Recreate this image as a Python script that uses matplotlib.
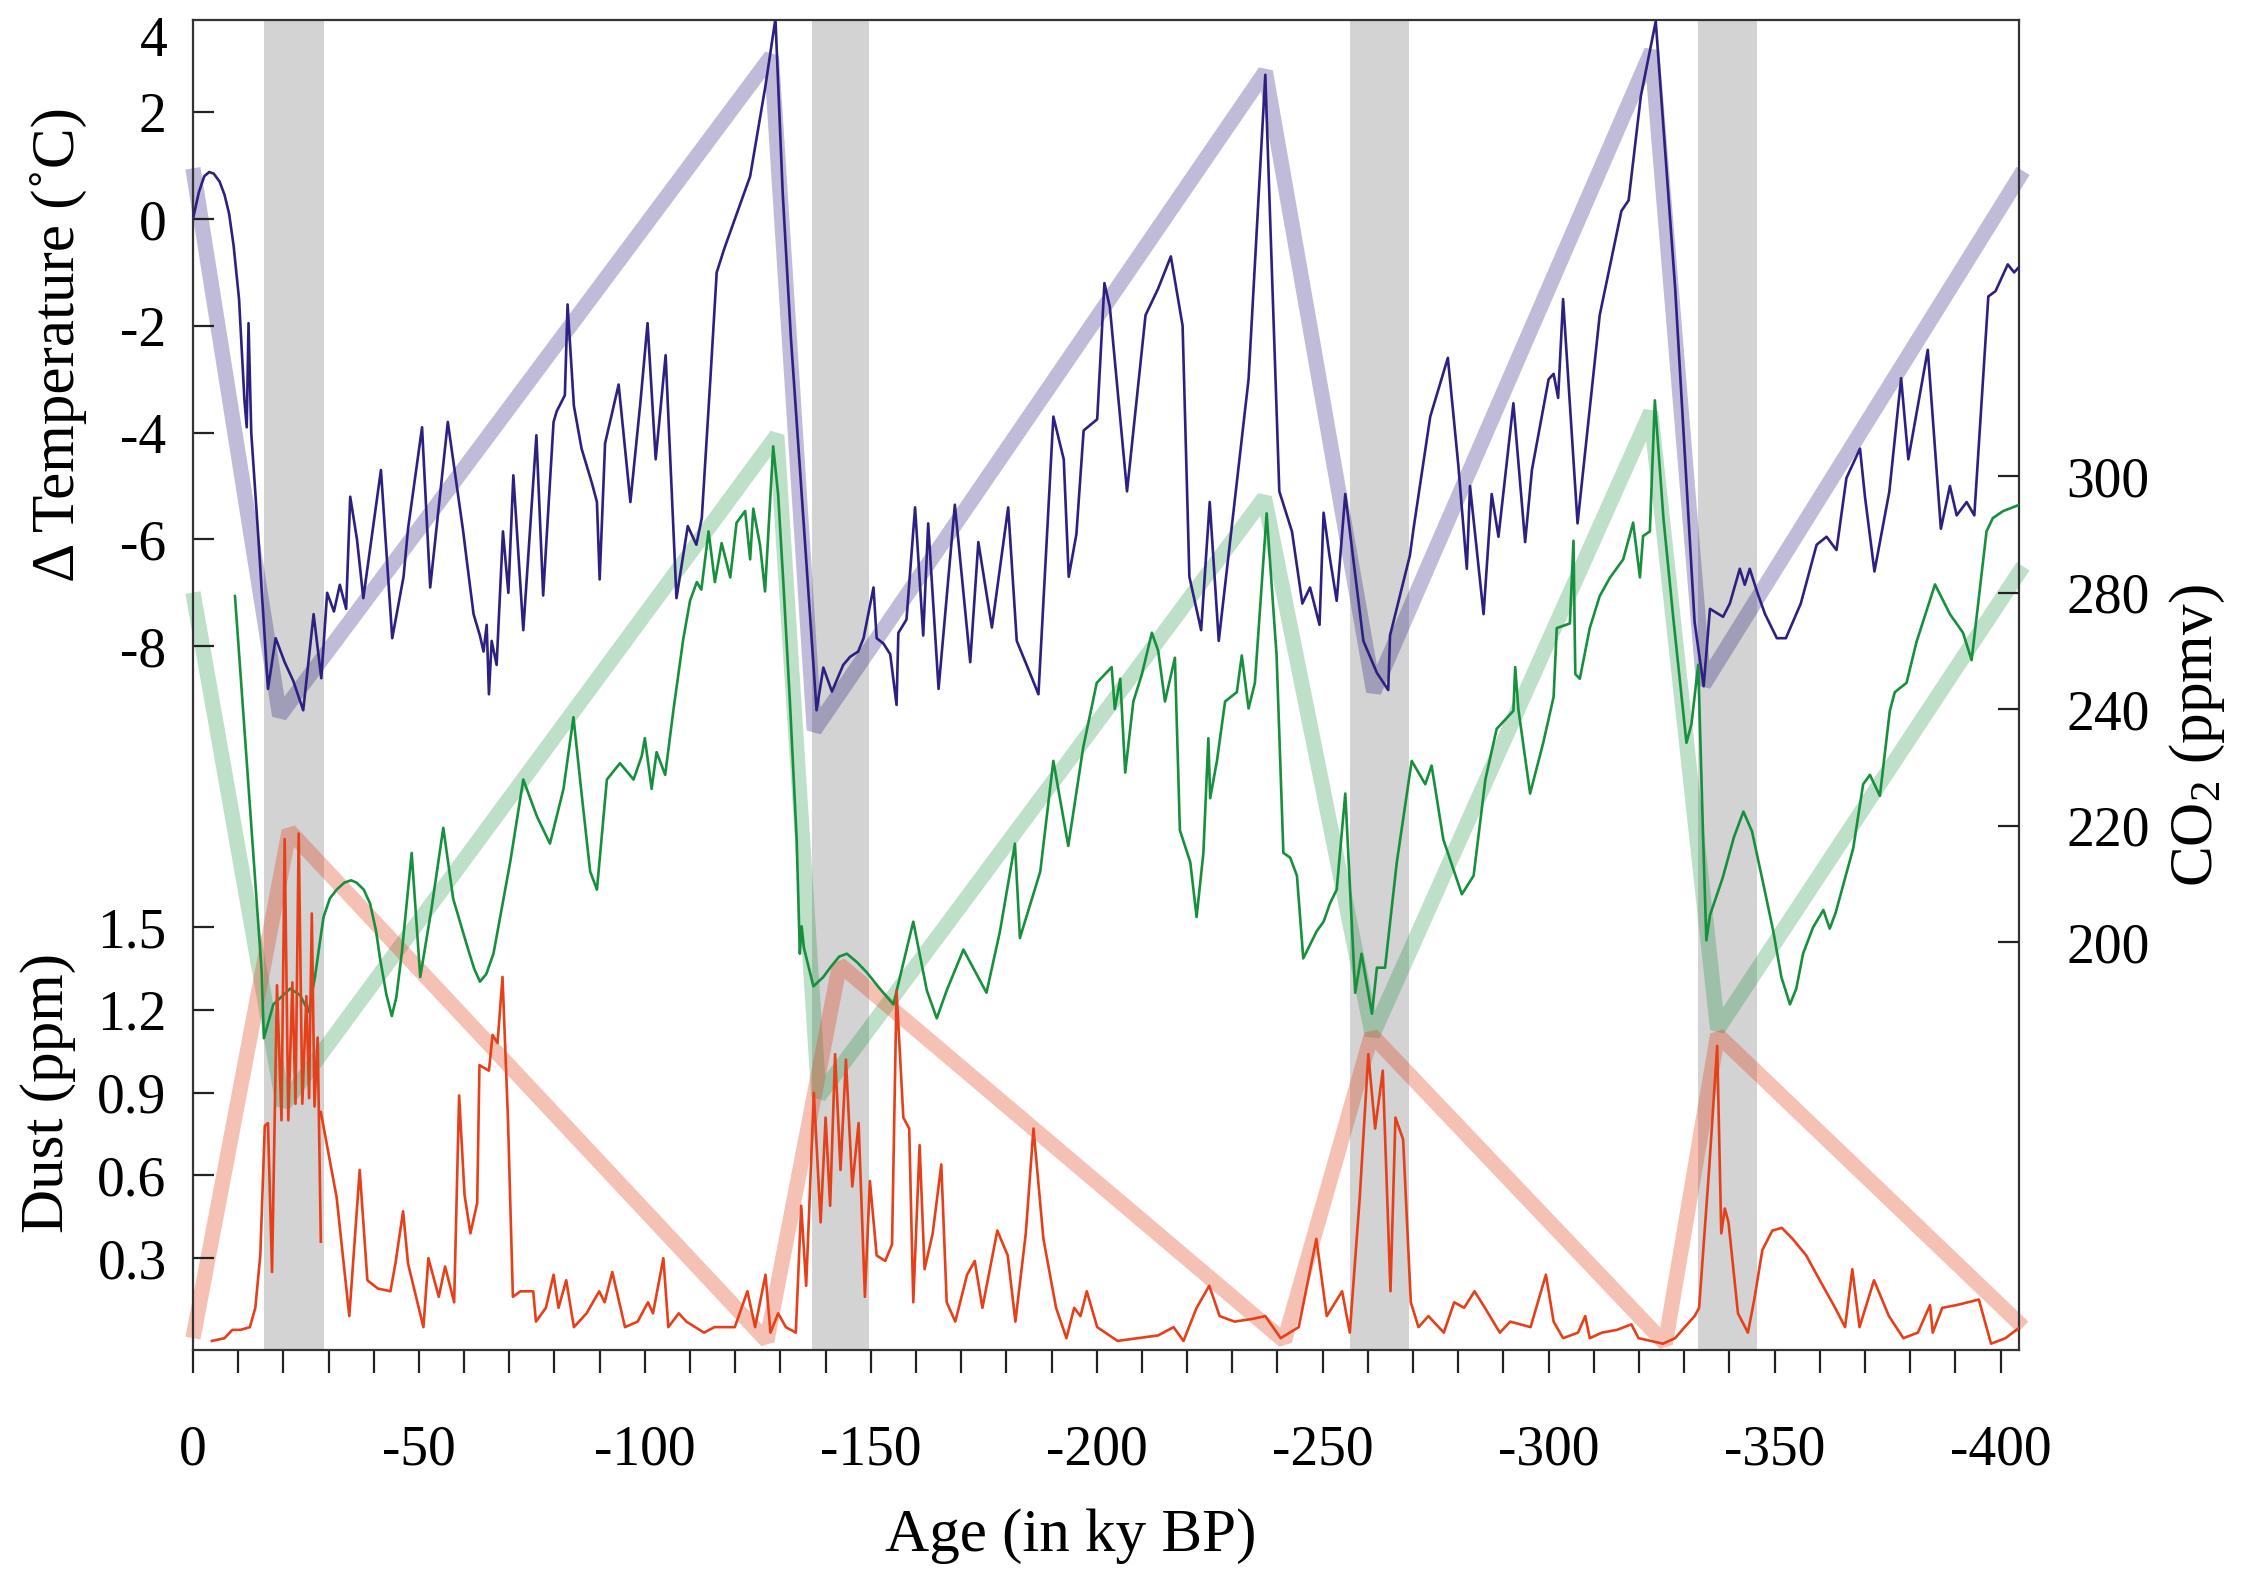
import numpy as np
import matplotlib.pyplot as plt

plt.rcParams['font.family'] = ['Liberation Serif', 'DejaVu Serif']
plt.rcParams['mathtext.fontset'] = 'custom'
plt.rcParams['mathtext.rm'] = 'Liberation Serif'
plt.rcParams['mathtext.it'] = 'Liberation Serif:italic'
plt.rcParams['axes.unicode_minus'] = False

# glacial terminations (gray bands), ky BP as negative numbers
bands = [(-15.8, -28.9), (-136.9, -149.5), (-256.0, -269.0), (-333.0, -346.0)]

# (age, delta T)
temp_points = [
    (0.0, 0.0), (-1.3, 0.5), (-2.5, 0.8), (-3.6, 0.88), (-4.6, 0.85), (-5.9, 0.7),
    (-7.0, 0.45), (-8.0, 0.1), (-9.0, -0.5), (-10.2, -1.5),
    (-11.4, -3.4), (-11.9, -3.9), (-12.3, -1.95), (-12.9, -4.0), (-14.5, -6.0), (-16.6, -8.8),
    (-18.3, -7.85), (-20.3, -8.3), (-22.2, -8.65), (-24.4, -9.2), (-26.7, -7.4), (-28.4, -8.6),
    (-29.7, -7.0), (-31.2, -7.35), (-32.5, -6.85), (-33.9, -7.3), (-34.8, -5.2), (-36.3, -6.0),
    (-37.7, -7.1), (-41.6, -4.7), (-44.1, -7.85), (-46.6, -6.7), (-47.6, -5.8), (-50.7, -3.9),
    (-52.5, -6.9), (-56.4, -3.8), (-58.4, -5.0), (-59.8, -5.85), (-60.6, -6.4), (-62.1, -7.4),
    (-63.5, -7.8), (-64.3, -8.1), (-65.0, -7.6), (-65.5, -8.9), (-66.1, -7.9), (-67.2, -8.35),
    (-68.6, -5.85), (-69.8, -7.0), (-70.9, -4.8), (-73.1, -7.7), (-76.0, -4.05), (-77.5, -7.05),
    (-79.8, -3.8), (-80.5, -3.6), (-82.3, -3.3), (-82.9, -1.6), (-84.3, -3.5), (-86.0, -4.3),
    (-88.3, -4.95), (-89.4, -5.3), (-90.0, -6.75), (-91.2, -4.2), (-94.2, -3.1), (-96.8, -5.3),
    (-99.0, -3.45), (-100.6, -1.95), (-102.4, -4.5), (-104.6, -2.55), (-107.0, -7.1),
    (-109.5, -5.75), (-111.4, -6.1), (-112.6, -5.6), (-114.5, -3.0), (-115.9, -1.0),
    (-117.6, -0.55), (-123.3, 0.8), (-126.7, 2.5), (-128.9, 3.75), (-130.5, 0.5), (-132.3, -2.2),
    (-138.0, -9.2), (-139.5, -8.4), (-141.4, -8.85), (-143.9, -8.35), (-145.4, -8.2),
    (-147.2, -8.1), (-148.4, -7.85), (-150.6, -6.9), (-151.3, -7.85), (-152.8, -7.95),
    (-154.3, -8.15), (-155.7, -9.1), (-156.1, -7.75), (-157.9, -7.5), (-159.8, -5.4),
    (-161.6, -7.8), (-162.7, -5.7), (-165.0, -8.8), (-168.6, -5.35), (-172.0, -8.3),
    (-173.8, -6.05), (-176.8, -7.65), (-180.4, -5.4), (-182.3, -7.9), (-185.2, -8.5),
    (-187.1, -8.9), (-190.4, -3.7), (-192.7, -4.5), (-193.8, -6.7), (-195.5, -5.9),
    (-197.1, -3.96), (-200.1, -3.75), (-201.7, -1.2), (-202.9, -1.65), (-206.7, -5.1),
    (-210.8, -1.8), (-213.6, -1.3), (-216.4, -0.7), (-219.0, -2.0), (-220.5, -6.7),
    (-223.1, -7.7), (-225.0, -5.3), (-227.0, -7.9), (-233.6, -3.0), (-237.3, 2.7),
    (-240.4, -5.1), (-243.2, -5.85), (-245.5, -7.2), (-247.2, -6.9), (-249.3, -7.6),
    (-250.2, -5.5), (-251.5, -6.3), (-253.1, -7.15), (-255.0, -5.15), (-259.0, -7.9),
    (-262.0, -8.5), (-264.5, -8.82), (-264.9, -7.8), (-269.3, -6.3), (-270.1, -5.8),
    (-273.8, -3.7), (-277.7, -2.6), (-280.0, -4.6), (-281.9, -6.55), (-282.6, -5.0),
    (-285.6, -7.4), (-287.4, -5.15), (-288.9, -5.95), (-292.2, -3.45), (-294.8, -6.05),
    (-296.3, -4.7), (-300.0, -3.0), (-301.1, -2.9), (-302.1, -3.35), (-303.2, -1.5),
    (-306.4, -5.7), (-311.3, -1.8), (-316.1, 0.15), (-317.7, 0.35), (-320.4, 2.3),
    (-323.7, 3.7), (-328.0, -1.3), (-332.3, -7.55), (-334.3, -8.75), (-335.7, -7.3),
    (-338.6, -7.45), (-340.1, -7.2), (-342.3, -6.55), (-343.4, -6.85), (-344.5, -6.55),
    (-346.2, -7.0), (-347.9, -7.4), (-350.5, -7.85), (-352.5, -7.85), (-355.8, -7.2),
    (-359.3, -6.1), (-361.5, -5.95), (-363.7, -6.2), (-365.9, -4.85), (-368.9, -4.3),
    (-370.0, -5.2), (-372.1, -6.6), (-375.4, -5.1), (-378.0, -2.98), (-379.6, -4.5),
    (-383.9, -2.45), (-386.8, -5.8), (-388.8, -5.0), (-390.3, -5.55), (-392.5, -5.3),
    (-394.2, -5.55), (-396.5, -2.5), (-397.3, -1.45), (-398.9, -1.35), (-401.6, -0.85),
    (-403.0, -1.0), (-404.1, -0.9),
]

# (age, CO2 ppmv)
co2_points = [
    (-9.3, 259.4), (-15.2, 195.0), (-15.7, 183.5), (-17.8, 189.3), (-21.5, 192.0),
    (-23.7, 190.9), (-25.6, 188.0), (-27.0, 194.0), (-28.0, 199.5), (-28.9, 204.3),
    (-30.3, 207.5), (-31.8, 209.0), (-33.5, 210.2), (-35.0, 210.6), (-36.2, 210.2),
    (-37.8, 209.0), (-39.2, 206.6), (-40.5, 202.0), (-41.4, 197.2), (-42.8, 191.0),
    (-44.0, 187.3), (-45.0, 190.5), (-46.2, 198.0),
    (-48.4, 215.3), (-50.3, 194.0), (-52.8, 205.8), (-55.4, 219.6), (-57.6, 207.4),
    (-60.6, 199.5), (-62.2, 195.5), (-63.5, 193.2), (-64.9, 194.5), (-66.5, 198.0),
    (-70.2, 213.7), (-73.1, 227.9),
    (-76.1, 221.6), (-79.0, 216.9), (-82.0, 226.3), (-84.2, 238.6), (-86.0, 225.5),
    (-87.9, 212.1), (-89.4, 209.0), (-91.6, 227.9), (-94.5, 230.7), (-97.5, 227.9),
    (-99.3, 231.9), (-100.0, 235.0), (-101.5, 226.3), (-102.6, 232.6), (-104.5, 228.7),
    (-106.3, 239.7), (-108.5, 252.0), (-110.0, 258.6), (-111.5, 261.8), (-112.5, 260.5),
    (-114.1, 270.5), (-115.5, 261.8), (-117.0, 268.5), (-118.9, 262.6), (-120.3, 272.0),
    (-122.2, 274.0), (-123.3, 265.7), (-124.0, 274.4), (-125.5, 268.1), (-126.6, 260.2),
    (-128.4, 285.1), (-129.5, 276.8), (-130.7, 261.0), (-132.1, 241.3), (-133.6, 217.6),
    (-134.3, 198.0), (-134.7, 202.7), (-135.2, 199.0), (-137.3, 192.4), (-139.5, 194.0),
    (-141.0, 195.6), (-143.0, 197.5), (-144.7, 198.0), (-147.0, 196.5), (-149.1, 194.8),
    (-152.0, 192.0), (-155.0, 189.3), (-159.4, 203.5),
    (-162.4, 191.7), (-164.6, 186.9), (-166.8, 191.7), (-170.5, 198.7), (-175.6, 191.3),
    (-178.6, 201.9), (-181.9, 216.9), (-183.0, 200.7), (-187.5, 212.1), (-190.4, 231.1),
    (-193.7, 216.5), (-197.0, 233.4), (-200.0, 244.5), (-203.3, 247.2), (-204.0, 240.0),
    (-205.2, 245.2), (-206.3, 229.1), (-208.1, 241.3), (-210.0, 246.0), (-212.2, 253.1),
    (-213.6, 250.0), (-215.1, 241.3), (-217.3, 248.8), (-218.4, 219.2), (-220.7, 213.7),
    (-222.1, 204.3), (-223.6, 215.3), (-224.7, 235.0), (-225.1, 224.7), (-226.6, 231.1),
    (-228.4, 241.3), (-231.0, 242.9), (-232.1, 249.2), (-233.6, 240.1), (-235.0, 244.5),
    (-237.6, 273.6), (-239.8, 249.2), (-241.3, 215.3), (-242.8, 214.5), (-244.3, 211.4),
    (-245.7, 197.2), (-248.7, 201.9), (-250.2, 203.5), (-251.6, 206.6), (-253.1, 209.0),
    (-255.0, 225.5), (-257.2, 191.3), (-258.6, 198.0), (-260.9, 187.7), (-262.0, 195.6),
    (-263.8, 195.6), (-266.4, 213.7), (-269.7, 231.1), (-272.7, 227.1), (-274.1, 230.3),
    (-276.7, 217.6), (-280.8, 208.2), (-283.4, 211.4), (-286.0, 227.9), (-288.5, 236.6),
    (-292.2, 239.7), (-292.6, 247.2), (-293.3, 240.0), (-295.9, 225.5), (-298.8, 234.2),
    (-301.1, 242.1), (-301.8, 253.9), (-304.7, 254.7), (-305.5, 268.9), (-305.9, 246.0),
    (-306.9, 245.2), (-309.1, 253.9), (-311.3, 259.4), (-313.6, 262.6), (-316.5, 265.7),
    (-318.7, 272.0), (-320.2, 262.6), (-320.9, 269.7), (-322.4, 270.5), (-323.5, 293.0),
    (-325.4, 272.8), (-327.6, 255.5), (-330.5, 234.2), (-331.6, 237.4), (-333.1, 247.6),
    (-334.2, 217.6), (-334.9, 200.3), (-335.7, 204.6), (-338.5, 211.0), (-341.0, 218.0),
    (-343.1, 222.4), (-345.0, 219.0), (-347.5, 210.0), (-349.7, 201.9), (-351.5, 194.0),
    (-353.4, 189.3), (-354.8, 192.0), (-356.3, 198.0), (-358.5, 202.5), (-360.8, 205.5),
    (-362.2, 202.3), (-363.5, 205.0),
    (-367.4, 216.1), (-369.6, 227.1), (-371.1, 228.7), (-373.3, 225.1), (-375.5, 239.7),
    (-376.6, 242.9), (-379.2, 244.5), (-381.4, 251.5), (-385.5, 261.4), (-388.8, 256.3),
    (-391.7, 253.1), (-393.6, 248.4), (-396.9, 270.5), (-398.3, 272.8), (-400.6, 274.0),
    (-404.6, 275.2),
]

# (age, dust ppm); None marks a gap in the record
dust_points = [
    (-4.2, 0.0), (-7.0, 0.01), (-8.7, 0.04), (-10.5, 0.04), (-12.6, 0.05), (-13.8, 0.12),
    (-14.9, 0.31), (-15.9, 0.78), (-16.6, 0.79), (-17.5, 0.25), (-18.6, 1.29), (-19.6, 0.80),
    (-20.3, 1.82), (-21.1, 0.80), (-22.0, 1.30), (-22.7, 0.86), (-23.4, 1.84), (-24.2, 0.86),
    (-25.1, 1.25), (-25.7, 0.88), (-26.3, 1.55), (-26.9, 0.85), (-27.6, 1.1), (-28.3, 0.36),
    (None, None),
    (-28.3, 0.83), (-31.8, 0.52), (-34.6, 0.09), (-36.9, 0.62), (-38.6, 0.22), (-40.9, 0.19),
    (-43.7, 0.18), (-44.8, 0.28), (-46.5, 0.47), (-47.6, 0.28), (-51.0, 0.05), (-52.1, 0.30),
    (-54.4, 0.16), (-55.8, 0.27), (-57.8, 0.14), (-58.9, 0.89), (-60.1, 0.53), (-61.4, 0.39),
    (-62.9, 0.50), (-63.4, 1.0), (-65.5, 0.98), (-66.3, 1.11), (-67.4, 1.08), (-68.5, 1.32),
    (-69.7, 0.81), (-70.8, 0.16), (-72.5, 0.18), (-75.3, 0.18), (-75.9, 0.07), (-78.1, 0.12),
    (-79.8, 0.24), (-80.9, 0.12), (-82.6, 0.22), (-84.3, 0.05), (-87.1, 0.10), (-89.9, 0.18),
    (-91.1, 0.14), (-92.8, 0.25), (-95.6, 0.05), (-98.4, 0.07), (-100.7, 0.14), (-101.8, 0.10),
    (-104.1, 0.30), (-105.2, 0.05), (-107.5, 0.10), (-109.2, 0.07), (-113.1, 0.03),
    (-115.4, 0.05), (-119.9, 0.05), (-122.7, 0.18), (-124.4, 0.05), (-126.7, 0.24),
    (-127.8, 0.03), (-129.5, 0.10), (-131.2, 0.05), (-133.4, 0.03), (-134.6, 0.49),
    (-135.7, 0.20), (-137.4, 0.90), (-138.9, 0.43), (-140.0, 0.81), (-141.0, 0.49),
    (-142.1, 1.04), (-143.3, 0.62), (-144.5, 1.02), (-145.9, 0.56), (-147.3, 0.79),
    (-148.7, 0.16), (-149.8, 0.58), (-151.3, 0.31), (-153.2, 0.29), (-154.7, 0.35),
    (-155.7, 1.27), (-157.2, 0.81), (-158.5, 0.77), (-159.4, 0.14), (-160.8, 0.71),
    (-161.9, 0.26), (-163.7, 0.39), (-165.6, 0.64), (-166.8, 0.14), (-168.7, 0.07),
    (-171.3, 0.24), (-173.0, 0.29), (-174.7, 0.12), (-178.0, 0.40), (-180.3, 0.31),
    (-182.0, 0.07), (-184.3, 0.39), (-186.0, 0.77), (-188.2, 0.37), (-191.0, 0.12),
    (-193.3, 0.01), (-195.0, 0.12), (-196.4, 0.09), (-197.8, 0.18), (-200.1, 0.05),
    (-204.6, 0.0), (-213.6, 0.02), (-217.0, 0.05), (-219.2, 0.0), (-222.1, 0.12),
    (-224.9, 0.20), (-227.2, 0.09), (-230.5, 0.07), (-234.5, 0.08), (-237.3, 0.09),
    (-240.7, 0.01), (-244.7, 0.05), (-248.6, 0.37), (-250.9, 0.09), (-254.3, 0.18),
    (-256.0, 0.03), (-258.2, 0.52), (-260.1, 1.04), (-261.6, 0.77), (-263.3, 0.98),
    (-265.0, 0.18), (-266.1, 0.81), (-267.8, 0.73), (-269.5, 0.14), (-271.2, 0.05),
    (-273.4, 0.09), (-276.8, 0.03), (-279.1, 0.14), (-281.3, 0.12), (-283.6, 0.18),
    (-285.9, 0.12), (-289.2, 0.03), (-291.5, 0.07), (-296.0, 0.05), (-299.4, 0.24),
    (-301.1, 0.07), (-303.2, 0.01), (-306.5, 0.03), (-308.1, 0.09), (-309.1, 0.01),
    (-311.8, 0.03), (-315.1, 0.04), (-318.3, 0.06), (-319.9, 0.01), (-322.6, 0.0),
    (-325.3, -0.01), (-328.0, 0.01), (-330.1, 0.05), (-332.3, 0.09), (-333.3, 0.12),
    (-335.5, 0.62), (-337.3, 1.07), (-338.2, 0.39), (-339.0, 0.48), (-339.8, 0.43),
    (-341.9, 0.10), (-344.1, 0.03), (-345.5, 0.15), (-347.3, 0.33), (-349.5, 0.40),
    (-351.6, 0.41), (-354.0, 0.37), (-357.0, 0.31), (-360.0, 0.22),
    (-363.4, 0.12), (-365.6, 0.05), (-367.2, 0.26), (-368.8, 0.05), (-372.0, 0.22),
    (-375.3, 0.09), (-378.5, 0.01), (-381.7, 0.03), (-384.4, 0.13), (-385.0, 0.03),
    (-387.1, 0.12), (-390.3, 0.13), (-395.2, 0.15), (-397.9, -0.01), (-401.1, 0.01),
    (-404.3, 0.05),
]

# saw-tooth trend lines
temp_trend = [(0.0, 0.95), (-19.2, -9.3), (-128.0, 3.05), (-137.5, -9.57), (-237.3, 2.76),
              (-261.3, -8.85), (-322.8, 3.15), (-334.3, -8.72), (-405.0, 0.9)]
co2_trend = [(0.0, 260.0), (-20.0, 172.0), (-129.2, 287.0), (-138.5, 173.5), (-237.1, 276.3),
             (-261.0, 184.0), (-322.6, 291.0), (-337.4, 185.0), (-405.0, 264.5)]
dust_trend = [(0.0, 0.01), (-21.3, 1.85), (-127.0, 0.0), (-143.1, 1.365), (-241.5, 0.0),
              (-260.8, 1.11), (-325.8, -0.01), (-337.4, 1.11), (-405.0, 0.05)]

temp_ticks = [-8, -6, -4, -2, 0, 2]
co2_ticks = [200, 220, 240, 260, 280]
co2_labels = ['200', '220', '240', '280', '300']
dust_ticks = [0.3, 0.6, 0.9, 1.2, 1.5]
dust_labels = ['0.3', '0.6', '0.9', '1.2', '1.5']

TEMP_C = '#2c2080'
CO2_C = '#17903d'
DUST_C = '#e5401a'
FS = 40
LFS = 44

fig = plt.figure(figsize=(22.62, 15.74), dpi=100)
ax = fig.add_axes([0.0853, 0.1423, 0.8073, 0.845])
ax_co2 = ax.twinx()
ax_dust = ax.twinx()
for a in (ax_co2, ax_dust):
    a.patch.set_visible(False)
    for s in a.spines.values():
        s.set_visible(False)

for lo, hi in bands:
    ax.axvspan(lo, hi, color='#d3d3d3', lw=0, zorder=0)

# thick trends all drawn in the bottom axes so thin traces sit on top
for pts, col, tr, al in [(temp_trend, TEMP_C, ax.transData, 0.3),
                         (co2_trend, CO2_C, ax_co2.transData, 0.28),
                         (dust_trend, DUST_C, ax_dust.transData, 0.32)]:
    x, y = np.array(pts, dtype=float).T
    ax.plot(x, y, color=col, alpha=al, lw=11, transform=tr,
            solid_capstyle='butt', solid_joinstyle='bevel', clip_on=False, zorder=1)

x, y = np.array(temp_points, dtype=float).T
ax.plot(x, y, color=TEMP_C, lw=1.9, zorder=3)
x, y = np.array(co2_points, dtype=float).T
ax_co2.plot(x, y, color=CO2_C, lw=1.9)
x, y = np.array(dust_points, dtype=float).T
ax_dust.plot(x, y, color=DUST_C, lw=1.9)

ax.set_xlim(0, -404.1)
ax.set_ylim(-21.18, 3.727)
ax_co2.set_ylim(129.96, 358.3)
ax_dust.set_ylim(-0.033, 4.79)

ax.set_xticks(np.arange(0, -401, -50))
ax.set_xticks(np.arange(0, -401, -10), minor=True)
ax.tick_params(axis='x', which='both', direction='out', length=16.5, width=1.6,
               color='#222222', labelsize=FS, pad=37)
ax.set_yticks(temp_ticks)
ax.tick_params(axis='y', direction='in', length=15, width=1.6, color='#222222',
               labelsize=FS, pad=19)

ax_co2.set_yticks(co2_ticks)
ax_co2.set_yticklabels(co2_labels)
ax_co2.tick_params(axis='y', direction='in', length=15, width=1.6, color='#222222',
                   labelsize=FS, pad=34)

ax_dust.yaxis.set_ticks_position('left')
ax_dust.set_yticks(dust_ticks)
ax_dust.set_yticklabels(dust_labels)
ax_dust.tick_params(axis='y', left=True, right=False, labelleft=True, labelright=False,
                    direction='in', length=15, width=1.6, color='#222222',
                    labelsize=FS, pad=19)

for s in ax.spines.values():
    s.set_color('#333333')
    s.set_linewidth(1.6)

# the "4" label sits at the very top of the temperature scale
fig.text(168 / 2262, 1 - 42 / 1574, '4', ha='right', va='center', fontsize=FS)

fig.text(0.0259, 0.781, 'Δ Temperature (˚C)', rotation=90, ha='center', va='center', fontsize=LFS)
fig.text(0.0214, 0.3056, 'Dust (ppm)', rotation=90, ha='center', va='center', fontsize=LFS)
fig.text(0.9715, 0.5324, 'CO$_2$ (ppmv)', rotation=90, ha='center', va='center', fontsize=LFS)
fig.text(0.4735, 0.0241, 'Age (in ky BP)', ha='center', va='center', fontsize=LFS)

fig.savefig('out.png', dpi=100)
